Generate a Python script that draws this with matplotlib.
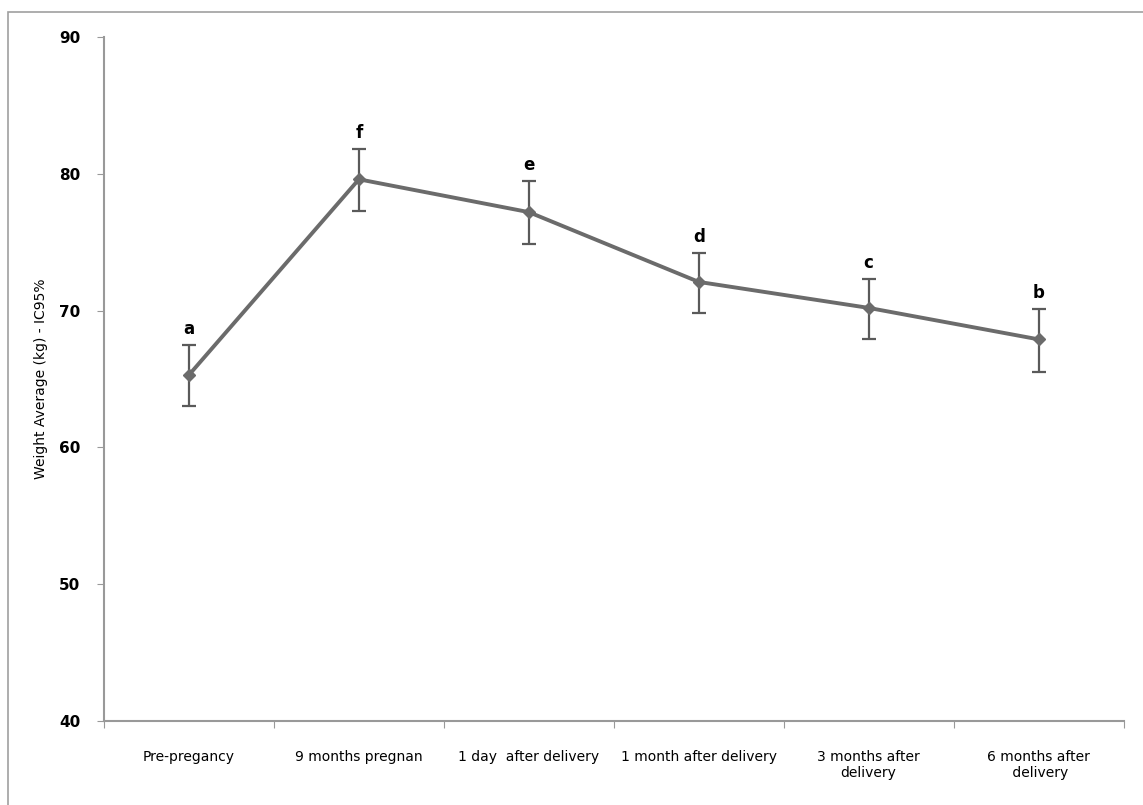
import matplotlib.pyplot as plt
import numpy as np
from matplotlib import patches

# Дані
categories = ["Pre-pregancy", "9 months pregnan", "1 day  after delivery",
              "1 month after delivery", "3 months after\ndelivery", "6 months after\n delivery"]
weight_mean = [65.3, 79.6, 77.2, 72.1, 70.2, 67.9]
ci_low = [63.0, 77.3, 74.9, 69.8, 67.9, 65.5]
ci_high = [67.5, 81.8, 79.5, 74.2, 72.3, 70.1]
letters = ["a", "f", "e", "d", "c", "b"]
y_ticks = [40, 50, 60, 70, 80, 90]

fig = plt.figure(figsize=(11.43, 8.05), dpi=100)
ax = fig.add_axes([0.091, 0.1043, 0.892, 0.8497])

# Рамка навколо всієї діаграми
fig.patches.append(patches.Rectangle((8 / 1143, -0.05), 1.2, 1 - 12 / 805 + 0.05,
                                     transform=fig.transFigure, fill=False,
                                     ec="#a0a0a0", lw=1.2))

x = np.arange(len(categories))
mean = np.array(weight_mean)
err = np.vstack([mean - np.array(ci_low), np.array(ci_high) - mean])

ax.errorbar(x, mean, yerr=err, fmt="none", ecolor="#5a5a5a", elinewidth=1.6,
            capsize=5, capthick=1.6, zorder=2)
ax.plot(x, mean, color="#6b6b6b", lw=2.8, marker="D", ms=6, zorder=3)

for xi, top, lab in zip(x, ci_high, letters):
    ax.text(xi, top + 0.5, lab, ha="center", va="bottom", fontsize=12,
            fontweight="bold")

ax.set_xlim(-0.5, len(categories) - 0.5)
ax.set_ylim(40, 90)
ax.set_yticks(y_ticks)
ax.set_yticklabels([str(v) for v in y_ticks], fontsize=11, fontweight="bold")
ax.set_xticks(np.arange(len(categories) + 1) - 0.5)
ax.set_xticklabels([])
ax.set_xticks(x, minor=True)
ax.set_xticklabels(categories, minor=True, fontsize=10)
ax.tick_params(axis="x", which="minor", length=0, pad=21)
ax.tick_params(axis="x", which="major", length=5, color="#999999")
ax.tick_params(axis="y", length=5, color="#999999", pad=12)

for side in ["top", "right"]:
    ax.spines[side].set_visible(False)
for side in ["left", "bottom"]:
    ax.spines[side].set_color("#999999")
    ax.spines[side].set_linewidth(1.5)

ax.set_ylabel("Weight Average (kg) - IC95%", fontsize=10, labelpad=8)

fig.savefig("out.png", dpi=100)
